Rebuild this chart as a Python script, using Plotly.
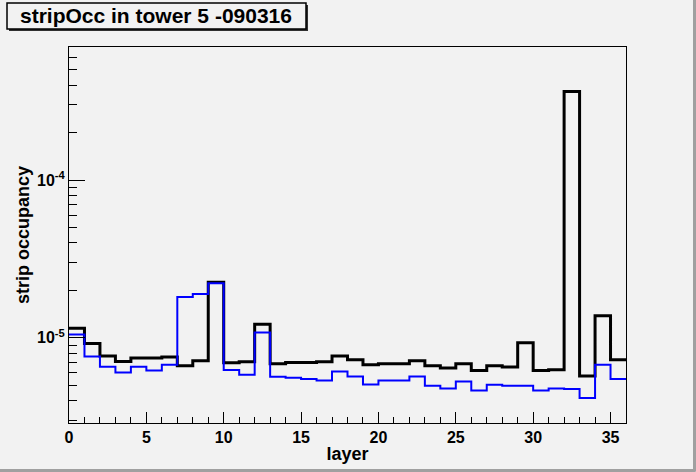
import plotly.graph_objects as go

# histogram bin edges (layer) and contents for both runs
layer_edges = list(range(0, 37))

occ_black = [1.15e-5, 9.2e-6, 7.66e-6, 7.08e-6, 7.44e-6, 7.44e-6, 7.55e-6, 6.65e-6,
             7.15e-6, 2.25e-5, 6.95e-6, 7.05e-6, 1.22e-5, 6.84e-6, 6.98e-6, 6.98e-6,
             7.05e-6, 7.66e-6, 7.26e-6, 6.75e-6, 6.84e-6, 6.84e-6, 7.15e-6, 6.65e-6,
             6.43e-6, 6.84e-6, 6.21e-6, 6.65e-6, 6.53e-6, 9.3e-6, 6.21e-6, 6.27e-6,
             3.64e-4, 5.72e-6, 1.378e-5, 7.26e-6]

occ_blue = [1.049e-5, 7.61e-6, 6.55e-6, 6.03e-6, 6.55e-6, 6.21e-6, 6.75e-6, 1.817e-5,
            1.899e-5, 2.22e-5, 6.25e-6, 5.83e-6, 1.08e-5, 5.67e-6, 5.58e-6, 5.48e-6,
            5.37e-6, 6.12e-6, 5.69e-6, 5.06e-6, 5.37e-6, 5.37e-6, 5.69e-6, 4.97e-6,
            4.78e-6, 5.29e-6, 4.64e-6, 5.04e-6, 4.97e-6, 4.97e-6, 4.64e-6, 4.78e-6,
            4.73e-6, 4.15e-6, 6.75e-6, 5.48e-6]

x_tickvals = [0, 5, 10, 15, 20, 25, 30, 35]
y_tickvals = [1e-5, 1e-4]
y_ticktext = ["10<sup>-5</sup>", "10<sup>-4</sup>"]
y_minor = [m * 10 ** e for e in (-6, -5, -4) for m in range(2, 10)]

BG = "#f2f2f2"
FONT = "Liberation Sans"

fig = go.Figure()

for vals, col, w in [(occ_black, "black", 3), (occ_blue, "#0000ff", 2)]:
    fig.add_trace(go.Scatter(
        x=layer_edges,
        y=vals + [vals[-1]],
        mode="lines",
        line=dict(shape="hv", color=col, width=w),
        showlegend=False,
    ))

fig.update_xaxes(
    range=[0, 36],
    tickvals=x_tickvals,
    ticks="inside", ticklen=11, tickwidth=1, tickcolor="black",
    minor=dict(ticks="inside", ticklen=6, dtick=1, tickcolor="black"),
    showline=True, linecolor="black", linewidth=1, mirror=True,
    showgrid=False, zeroline=False,
    tickfont=dict(family=FONT, size=16, color="black", weight="bold"),
    title=dict(text="layer", font=dict(family=FONT, size=18, color="black", weight="bold"),
               standoff=2),
)

fig.update_yaxes(
    type="log",
    range=[-5.54, -3.156],
    tickvals=y_tickvals, ticktext=y_ticktext,
    ticks="inside", ticklen=16, tickwidth=1, tickcolor="black",
    minor=dict(ticks="inside", ticklen=8, tickvals=y_minor, tickcolor="black"),
    showline=True, linecolor="black", linewidth=1, mirror=True,
    showgrid=False, zeroline=False,
    tickfont=dict(family=FONT, size=16, color="black", weight="bold"),
    title=dict(text="strip occupancy", font=dict(family=FONT, size=18, color="black", weight="bold"),
               standoff=2),
)

# title box with ROOT-style shadow
fig.add_shape(type="rect", xref="paper", yref="paper",
              x0=-0.1077, x1=0.4291, y0=1.0426, y1=1.1117,
              fillcolor="#303030", line=dict(width=0), layer="below")
fig.add_shape(type="rect", xref="paper", yref="paper",
              x0=-0.1113, x1=0.4255, y0=1.048, y1=1.117,
              fillcolor=BG, line=dict(color="black", width=1.5), layer="below")
fig.add_annotation(text="stripOcc in tower 5 -090316", xref="paper", yref="paper",
                   x=0.157, y=1.0825, xanchor="center", yanchor="middle", showarrow=False,
                   font=dict(family=FONT, size=21, color="black", weight="bold"))

# canvas bevel on right / bottom
fig.add_shape(type="line", xref="paper", yref="paper", x0=1.1230, x1=1.1230, y0=-0.128, y1=1.125,
              line=dict(color="#a0a0a0", width=3))
fig.add_shape(type="line", xref="paper", yref="paper", x0=-0.124, x1=1.125, y0=-0.1265, y1=-0.1265,
              line=dict(color="#a0a0a0", width=3))

fig.update_layout(
    width=696, height=472,
    margin=dict(l=69, r=70, t=47, b=49),
    paper_bgcolor=BG, plot_bgcolor=BG,
    showlegend=False,
)

# drop the page's default body margin so the canvas sits at the window corner
fig.write_html("out.html", config={"displayModeBar": False},
               post_script="document.body.style.margin='0';document.body.style.background='#f2f2f2';")
